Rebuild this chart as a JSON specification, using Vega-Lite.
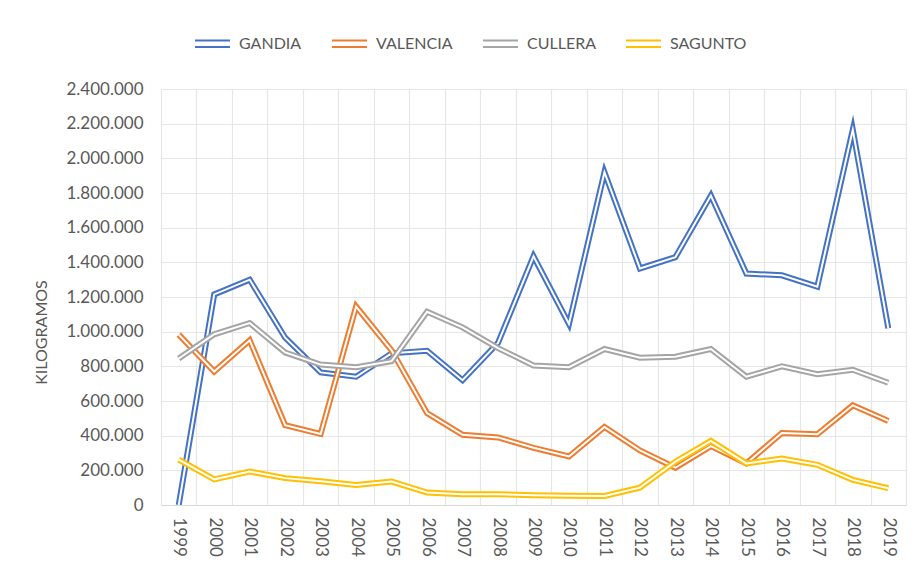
{
  "$schema": "https://vega.github.io/schema/vega-lite/v6.json",
  "width": 745,
  "height": 416,
  "autosize": {"type": "none"},
  "padding": {"left": 161, "top": 89, "right": 16, "bottom": 63},
  "background": "white",
  "data": {"values": [
    {"year": "1999", "serie": "GANDIA", "value": 0},
    {"year": "2000", "serie": "GANDIA", "value": 1215000},
    {"year": "2001", "serie": "GANDIA", "value": 1300000},
    {"year": "2002", "serie": "GANDIA", "value": 965000},
    {"year": "2003", "serie": "GANDIA", "value": 765000},
    {"year": "2004", "serie": "GANDIA", "value": 740000},
    {"year": "2005", "serie": "GANDIA", "value": 875000},
    {"year": "2006", "serie": "GANDIA", "value": 890000},
    {"year": "2007", "serie": "GANDIA", "value": 720000},
    {"year": "2008", "serie": "GANDIA", "value": 935000},
    {"year": "2009", "serie": "GANDIA", "value": 1435000},
    {"year": "2010", "serie": "GANDIA", "value": 1045000},
    {"year": "2011", "serie": "GANDIA", "value": 1920000},
    {"year": "2012", "serie": "GANDIA", "value": 1365000},
    {"year": "2013", "serie": "GANDIA", "value": 1430000},
    {"year": "2014", "serie": "GANDIA", "value": 1785000},
    {"year": "2015", "serie": "GANDIA", "value": 1335000},
    {"year": "2016", "serie": "GANDIA", "value": 1325000},
    {"year": "2017", "serie": "GANDIA", "value": 1260000},
    {"year": "2018", "serie": "GANDIA", "value": 2165000},
    {"year": "2019", "serie": "GANDIA", "value": 1020000},
    {"year": "1999", "serie": "VALENCIA", "value": 983000},
    {"year": "2000", "serie": "VALENCIA", "value": 770000},
    {"year": "2001", "serie": "VALENCIA", "value": 950000},
    {"year": "2002", "serie": "VALENCIA", "value": 460000},
    {"year": "2003", "serie": "VALENCIA", "value": 410000},
    {"year": "2004", "serie": "VALENCIA", "value": 1145000},
    {"year": "2005", "serie": "VALENCIA", "value": 892000},
    {"year": "2006", "serie": "VALENCIA", "value": 530000},
    {"year": "2007", "serie": "VALENCIA", "value": 405000},
    {"year": "2008", "serie": "VALENCIA", "value": 390000},
    {"year": "2009", "serie": "VALENCIA", "value": 330000},
    {"year": "2010", "serie": "VALENCIA", "value": 280000},
    {"year": "2011", "serie": "VALENCIA", "value": 450000},
    {"year": "2012", "serie": "VALENCIA", "value": 315000},
    {"year": "2013", "serie": "VALENCIA", "value": 215000},
    {"year": "2014", "serie": "VALENCIA", "value": 340000},
    {"year": "2015", "serie": "VALENCIA", "value": 240000},
    {"year": "2016", "serie": "VALENCIA", "value": 415000},
    {"year": "2017", "serie": "VALENCIA", "value": 408000},
    {"year": "2018", "serie": "VALENCIA", "value": 575000},
    {"year": "2019", "serie": "VALENCIA", "value": 485000},
    {"year": "1999", "serie": "CULLERA", "value": 845000},
    {"year": "2000", "serie": "CULLERA", "value": 985000},
    {"year": "2001", "serie": "CULLERA", "value": 1050000},
    {"year": "2002", "serie": "CULLERA", "value": 880000},
    {"year": "2003", "serie": "CULLERA", "value": 810000},
    {"year": "2004", "serie": "CULLERA", "value": 795000},
    {"year": "2005", "serie": "CULLERA", "value": 830000},
    {"year": "2006", "serie": "CULLERA", "value": 1115000},
    {"year": "2007", "serie": "CULLERA", "value": 1025000},
    {"year": "2008", "serie": "CULLERA", "value": 905000},
    {"year": "2009", "serie": "CULLERA", "value": 805000},
    {"year": "2010", "serie": "CULLERA", "value": 795000},
    {"year": "2011", "serie": "CULLERA", "value": 900000},
    {"year": "2012", "serie": "CULLERA", "value": 850000},
    {"year": "2013", "serie": "CULLERA", "value": 855000},
    {"year": "2014", "serie": "CULLERA", "value": 900000},
    {"year": "2015", "serie": "CULLERA", "value": 740000},
    {"year": "2016", "serie": "CULLERA", "value": 800000},
    {"year": "2017", "serie": "CULLERA", "value": 755000},
    {"year": "2018", "serie": "CULLERA", "value": 780000},
    {"year": "2019", "serie": "CULLERA", "value": 705000},
    {"year": "1999", "serie": "SAGUNTO", "value": 262000},
    {"year": "2000", "serie": "SAGUNTO", "value": 148000},
    {"year": "2001", "serie": "SAGUNTO", "value": 193000},
    {"year": "2002", "serie": "SAGUNTO", "value": 155000},
    {"year": "2003", "serie": "SAGUNTO", "value": 137000},
    {"year": "2004", "serie": "SAGUNTO", "value": 115000},
    {"year": "2005", "serie": "SAGUNTO", "value": 135000},
    {"year": "2006", "serie": "SAGUNTO", "value": 72000},
    {"year": "2007", "serie": "SAGUNTO", "value": 62000},
    {"year": "2008", "serie": "SAGUNTO", "value": 62000},
    {"year": "2009", "serie": "SAGUNTO", "value": 56000},
    {"year": "2010", "serie": "SAGUNTO", "value": 53000},
    {"year": "2011", "serie": "SAGUNTO", "value": 52000},
    {"year": "2012", "serie": "SAGUNTO", "value": 100000},
    {"year": "2013", "serie": "SAGUNTO", "value": 250000},
    {"year": "2014", "serie": "SAGUNTO", "value": 370000},
    {"year": "2015", "serie": "SAGUNTO", "value": 240000},
    {"year": "2016", "serie": "SAGUNTO", "value": 268000},
    {"year": "2017", "serie": "SAGUNTO", "value": 232000},
    {"year": "2018", "serie": "SAGUNTO", "value": 145000},
    {"year": "2019", "serie": "SAGUNTO", "value": 97000}
  ]},
  "encoding": {
    "x": {
      "field": "year", "type": "ordinal", "bandPosition": 0.5,
      "scale": {"type": "band", "paddingInner": 0, "paddingOuter": 0},
      "axis": {
        "title": null, "labelAngle": 90, "labelAlign": "left", "labelBaseline": "middle",
        "labelPadding": 12, "ticks": false, "tickBand": "extent", "grid": true,
        "domainColor": "#D9D9D9", "domainWidth": 1.2
      }
    },
    "y": {
      "field": "value", "type": "quantitative",
      "scale": {"domain": [0, 2400000], "nice": false, "zero": true},
      "axis": {
        "title": "KILOGRAMOS",
        "values": [0, 200000, 400000, 600000, 800000, 1000000, 1200000, 1400000, 1600000, 1800000, 2000000, 2200000, 2400000],
        "labelExpr": "replace(format(datum.value, ','), regexp(',', 'g'), '.')",
        "domain": false, "ticks": false, "labelPadding": 18, "grid": true,
        "titleX": -120, "titleY": 243, "titleAngle": -90, "titleAlign": "center", "titleBaseline": "middle"
      }
    }
  },
  "layer": [
    {
      "transform": [{"filter": "datum.serie === 'GANDIA'"}],
      "mark": {"type": "line", "strokeWidth": 6, "strokeMiterLimit": 30, "clip": true},
      "encoding": {
        "color": {
          "field": "serie", "type": "nominal",
          "scale": {"domain": ["GANDIA", "VALENCIA", "CULLERA", "SAGUNTO"], "range": ["#4472C4", "#ED7D31", "#A5A5A5", "#FFC000"]},
          "legend": {
            "orient": "none", "legendX": 33, "legendY": -64, "direction": "horizontal", "title": null,
            "symbolType": "M-1,-0.18H1M-1,0.18H1", "symbolSize": 1225, "symbolStrokeWidth": 2,
            "labelFont": "Lato", "labelFontSize": 16, "labelColor": "#595959",
            "labelOffset": 8, "columnPadding": 26, "padding": 0
          }
        }
      }
    },
    {
      "transform": [{"filter": "datum.serie === 'GANDIA'"}],
      "mark": {"type": "line", "strokeWidth": 2, "strokeMiterLimit": 30, "color": "white", "clip": true},
      "encoding": {}
    },
    {
      "transform": [{"filter": "datum.serie === 'VALENCIA'"}],
      "mark": {"type": "line", "strokeWidth": 6, "strokeMiterLimit": 30, "clip": true},
      "encoding": {"color": {"field": "serie", "type": "nominal"}}
    },
    {
      "transform": [{"filter": "datum.serie === 'VALENCIA'"}],
      "mark": {"type": "line", "strokeWidth": 2, "strokeMiterLimit": 30, "color": "white", "clip": true},
      "encoding": {}
    },
    {
      "transform": [{"filter": "datum.serie === 'CULLERA'"}],
      "mark": {"type": "line", "strokeWidth": 6, "strokeMiterLimit": 30, "clip": true},
      "encoding": {"color": {"field": "serie", "type": "nominal"}}
    },
    {
      "transform": [{"filter": "datum.serie === 'CULLERA'"}],
      "mark": {"type": "line", "strokeWidth": 2, "strokeMiterLimit": 30, "color": "white", "clip": true},
      "encoding": {}
    },
    {
      "transform": [{"filter": "datum.serie === 'SAGUNTO'"}],
      "mark": {"type": "line", "strokeWidth": 6, "strokeMiterLimit": 30, "clip": true},
      "encoding": {"color": {"field": "serie", "type": "nominal"}}
    },
    {
      "transform": [{"filter": "datum.serie === 'SAGUNTO'"}],
      "mark": {"type": "line", "strokeWidth": 2, "strokeMiterLimit": 30, "color": "white", "clip": true},
      "encoding": {}
    }
  ],
  "config": {
    "font": "Lato",
    "view": {"stroke": null},
    "axis": {
      "labelFont": "Lato", "labelFontSize": 17, "labelColor": "#595959",
      "titleFont": "Lato", "titleFontSize": 16, "titleFontWeight": "normal", "titleColor": "#595959",
      "gridColor": "#E6E6E6", "gridWidth": 1.2
    }
  }
}
